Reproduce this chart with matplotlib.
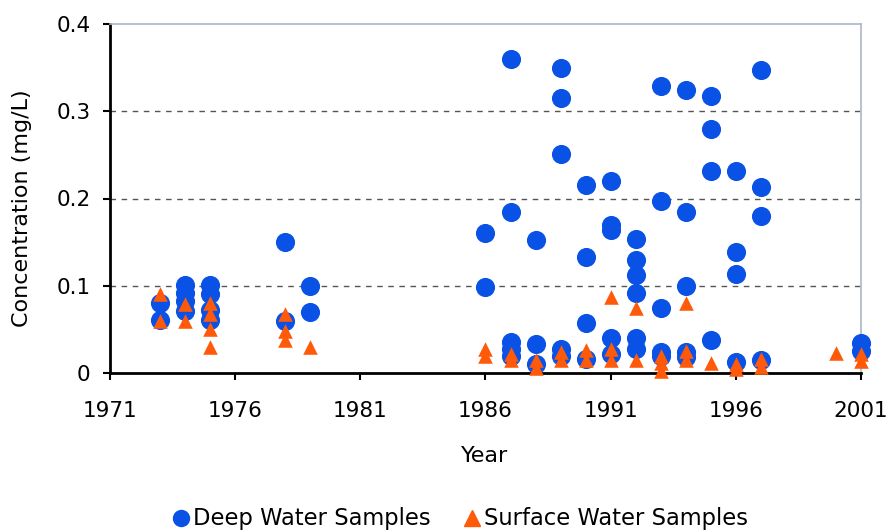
import matplotlib
matplotlib.use("Agg")
import matplotlib.pyplot as plt
from matplotlib.lines import Line2D

plt.rcParams['font.family'] = ['DejaVu Sans']

# Deep water samples: (year, concentration)
deep_years = [1973, 1973,
              1974, 1974, 1974, 1974,
              1975, 1975, 1975, 1975,
              1978, 1978,
              1979, 1979,
              1986, 1986,
              1987, 1987, 1987, 1987, 1987,
              1988, 1988, 1988,
              1989, 1989, 1989, 1989, 1989,
              1990, 1990, 1990, 1990,
              1991, 1991, 1991, 1991, 1991,
              1992, 1992, 1992, 1992, 1992, 1992,
              1993, 1993, 1993, 1993, 1993,
              1994, 1994, 1994, 1994, 1994,
              1995, 1995, 1995, 1995,
              1996, 1996, 1996, 1996,
              1997, 1997, 1997, 1997,
              2001, 2001]
deep_values = [0.080, 0.061,
               0.101, 0.092, 0.082, 0.071,
               0.101, 0.090, 0.072, 0.061,
               0.150, 0.060,
               0.100, 0.070,
               0.160, 0.099,
               0.360, 0.185, 0.035, 0.027, 0.020,
               0.152, 0.033, 0.010,
               0.349, 0.315, 0.251, 0.027, 0.020,
               0.215, 0.133, 0.057, 0.016,
               0.220, 0.170, 0.164, 0.040, 0.022,
               0.154, 0.129, 0.112, 0.092, 0.040, 0.028,
               0.329, 0.197, 0.075, 0.024, 0.020,
               0.324, 0.184, 0.100, 0.024, 0.018,
               0.317, 0.280, 0.232, 0.038,
               0.232, 0.139, 0.114, 0.013,
               0.347, 0.213, 0.180, 0.015,
               0.034, 0.025]

# Surface water samples: (year, concentration)
surf_years = [1973, 1973,
              1974, 1974,
              1975, 1975, 1975, 1975,
              1978, 1978, 1978,
              1979,
              1986, 1986,
              1987, 1987,
              1988, 1988,
              1989, 1989,
              1990, 1990,
              1991, 1991, 1991,
              1992, 1992,
              1993, 1993, 1993,
              1994, 1994, 1994,
              1995,
              1996, 1996,
              1997, 1997,
              2000,
              2001, 2001]
surf_values = [0.090, 0.060,
               0.079, 0.060,
               0.080, 0.068, 0.050, 0.030,
               0.068, 0.048, 0.038,
               0.030,
               0.028, 0.019,
               0.022, 0.015,
               0.015, 0.006,
               0.024, 0.015,
               0.026, 0.015,
               0.087, 0.027, 0.015,
               0.075, 0.015,
               0.020, 0.012, 0.002,
               0.080, 0.025, 0.015,
               0.012,
               0.010, 0.005,
               0.016, 0.007,
               0.023,
               0.022, 0.014]

x_ticks = [1971, 1976, 1981, 1986, 1991, 1996, 2001]
y_ticks = [0, 0.1, 0.2, 0.3, 0.4]
y_labels = ["0", "0.1", "0.2", "0.3", "0.4"]

blue = "#0a52e6"
orange = "#ff5a0a"
W, H = 891, 531

fig = plt.figure(figsize=(8.91, 5.31), dpi=100)
ax = fig.add_axes([110 / W, 1 - 373 / H, 751 / W, 349 / H])

ax.scatter(deep_years, deep_values, s=190, marker='o', color=blue, zorder=3,
           linewidths=0, clip_on=False)
ax.scatter(surf_years, surf_values, s=110, marker='^', color=orange, zorder=4,
           linewidths=0, clip_on=False)

ax.set_xlim(1971, 2001)
ax.set_ylim(0, 0.4)
ax.set_xticks(x_ticks)
ax.set_yticks(y_ticks)
ax.set_yticklabels(y_labels)

for y in [0.1, 0.2, 0.3]:
    ax.axhline(y, color="#555555", linestyle=(0, (4, 4)), linewidth=1.0, zorder=1)

ax.spines['left'].set_linewidth(2)
ax.spines['bottom'].set_linewidth(2)
ax.spines['left'].set_color('black')
ax.spines['bottom'].set_color('black')
ax.spines['top'].set_color('#a9b8c8')
ax.spines['right'].set_color('#a9b8c8')
ax.spines['top'].set_linewidth(1.2)
ax.spines['right'].set_linewidth(1.2)
for sp in ax.spines.values():
    sp.set_zorder(2.5)

ax.tick_params(axis='both', direction='out', length=5, width=1.5, labelsize=15.5)
ax.tick_params(axis='x', pad=15)
ax.tick_params(axis='y', pad=9)

fig.text(485 / W, 1 - 456 / H, "Year", fontsize=16, ha='center', va='center')
fig.text(22 / W, 1 - 208 / H, "Concentration (mg/L)", fontsize=16,
         ha='center', va='center', rotation=90)

handles = [Line2D([], [], marker='o', color=blue, linestyle='none', markersize=11.5),
           Line2D([], [], marker='^', color=orange, linestyle='none', markersize=11)]
fig.legend(handles, ["Deep Water Samples", "Surface Water Samples"],
           loc='center', bbox_to_anchor=(460 / W, 1 - 519 / H), ncol=2, frameon=False,
           fontsize=16.3, handletextpad=0.15, columnspacing=1.4, handlelength=0.8)

fig.savefig("out.png", dpi=100)
